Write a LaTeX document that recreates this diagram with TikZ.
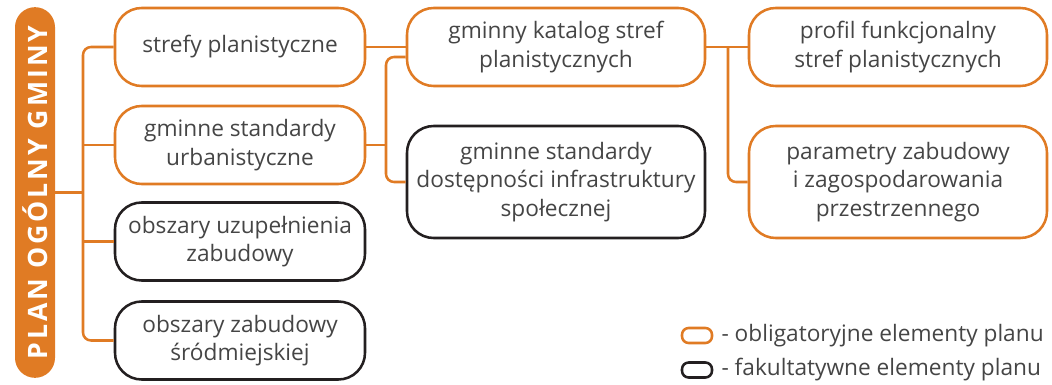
\documentclass[tikz,border=0pt]{standalone}
\usepackage{fontspec}
\setmainfont{Open Sans}
\usetikzlibrary{positioning}
\definecolor{planorange}{HTML}{E07B24}
\definecolor{planblack}{HTML}{231F20}
\definecolor{plantext}{HTML}{454545}
\tikzset{
	elbox/.style={rectangle, rounded corners=20pt, line width=1.9pt, align=center, inner sep=2pt, text=plantext, font=\fontsize{17pt}{21.5pt}\selectfont},
	oblbox/.style={elbox, draw=planorange},
	fakbox/.style={elbox, draw=planblack},
	smallbox/.style={minimum width=187.5pt, minimum height=58.5pt},
	widebox/.style={minimum width=223.5pt, minimum height=58.5pt},
	tallbox/.style={minimum width=223.5pt, minimum height=84pt},
	conn/.style={draw=planorange, line width=1.9pt},
	legbox/.style={rectangle, rounded corners=5pt, line width=1.9pt, minimum width=22.5pt, minimum height=11.25pt, inner sep=0pt},
	legtext/.style={inner sep=0pt, anchor=west, text=plantext, font=\fontsize{17pt}{20pt}\selectfont},
}
\begin{document}
\begin{tikzpicture}[x=0.75pt, y=-0.75pt]
			%%%%% START %%%%%
			\useasboundingbox (0,0) rectangle (1052,385);
			
			\node[fill=planorange, rounded corners=15pt, rotate=90, minimum width=278pt, minimum height=30pt, inner sep=0pt, text=white, font=\fontsize{20pt}{20pt}\selectfont\bfseries\addfontfeature{LetterSpace=11}] (plan) at (35,192.5) {PLAN OGÓLNY GMINY};
			
			\node[oblbox, smallbox] (strefy) at (240,47) {strefy planistyczne};
			\node[oblbox, smallbox] (urban) at (240,145) {gminne standardy\\urbanistyczne};
			\node[fakbox, smallbox] (uzup) at (240,241.5) {obszary uzupełnienia\\zabudowy};
			\node[fakbox, smallbox] (srodm) at (240,340.5) {obszary zabudowy\\śródmiejskiej};
			
			\node[oblbox, widebox] (katalog) at (556,47) {gminny katalog stref\\planistycznych};
			\node[fakbox, tallbox] (dostep) at (556,182) {gminne standardy\\dostępności infrastruktury\\społecznej};
			
			\node[oblbox, widebox] (profil) at (898,47) {profil funkcjonalny\\stref planistycznych};
			\node[oblbox, tallbox] (param) at (898,182) {parametry zabudowy\\i zagospodarowania\\przestrzennego};
			
			\coordinate (j1) at (83,192.5);
			\draw[conn, rounded corners=6pt] (strefy.west) -| (j1) |- (srodm.west);
			\draw[conn] (plan.south) -- (j1);
			\draw[conn] (urban.west) -- (urban.west -| j1);
			\draw[conn] (uzup.west) -- (uzup.west -| j1);
			
			\coordinate (j2) at (386,145);
			\draw[conn] (strefy.east) -- (katalog.west);
			\draw[conn] (urban.east) -- (j2);
			\draw[conn, rounded corners=6pt] ([yshift=-7.5pt]katalog.west) -| (j2) |- (dostep.west);
			
			\coordinate (j3) at (728,47);
			\draw[conn] (katalog.east) -- (profil.west);
			\draw[conn, rounded corners=6pt] (j3) |- (param.west);
			
			\node[legbox, draw=planorange] (legobl) at (697,335.5) {};
			\node[legtext, right=6pt of legobl] (legobltxt) {- obligatoryjne elementy planu};
			\node[legbox, draw=planblack] (legfak) at (697,370) {};
			\node[legtext, right=6pt of legfak] (legfaktxt) {- fakultatywne elementy planu};
			
			%%%%% END %%%%%
\end{tikzpicture}
\end{document}
